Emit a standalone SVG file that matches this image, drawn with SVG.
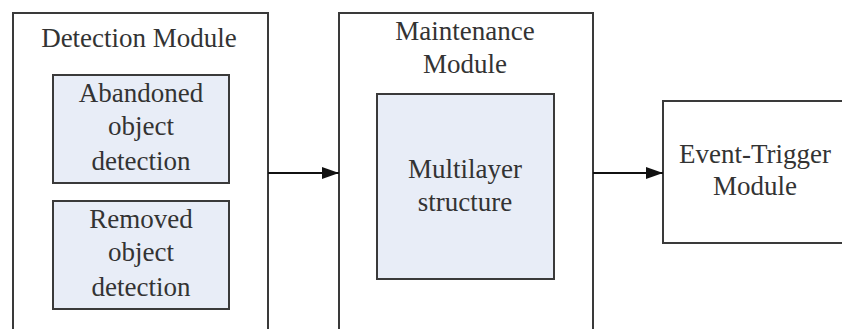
<svg xmlns="http://www.w3.org/2000/svg" width="842" height="329" viewBox="0 0 842 329">
  <defs>
    <marker id="arrow" viewBox="0 0 17 12" refX="17" refY="6" markerWidth="17" markerHeight="12" markerUnits="userSpaceOnUse" orient="auto">
      <path d="M0,0 L17,6 L0,12 Z" fill="#111"/>
    </marker>
  </defs>
  <style>
    .outer { fill: #ffffff; stroke: #3a3a3a; stroke-width: 2; }
    .inner { fill: #e8edf7; stroke: #3a3a3a; stroke-width: 2; }
    .label { font-family: "Liberation Serif", "Times New Roman", serif; font-size: 27px; fill: #333333; text-anchor: middle; }
    .link { stroke: #111; stroke-width: 2; fill: none; }
  </style>
  <rect width="842" height="329" fill="#ffffff"/>

  <!-- Detection module with its two sub-blocks -->
  <g id="detection-module">
    <rect class="outer" x="13" y="13" width="255" height="330"/>
    <text class="label" x="139" y="47">Detection Module</text>
  </g>
  <g id="abandoned-detection">
    <rect class="inner" x="53" y="75" width="176" height="108"/>
    <text class="label" x="141" y="102">Abandoned</text>
    <text class="label" x="141" y="135">object</text>
    <text class="label" x="141" y="170">detection</text>
  </g>
  <g id="removed-detection">
    <rect class="inner" x="53" y="201" width="176" height="108"/>
    <text class="label" x="141" y="228">Removed</text>
    <text class="label" x="141" y="261">object</text>
    <text class="label" x="141" y="296">detection</text>
  </g>

  <!-- Maintenance module -->
  <g id="maintenance-module">
    <rect class="outer" x="339" y="13" width="254" height="330"/>
    <text class="label" x="465" y="40">Maintenance</text>
    <text class="label" x="465" y="73">Module</text>
  </g>
  <g id="multilayer-structure">
    <rect class="inner" x="377" y="94" width="177" height="185"/>
    <text class="label" x="465" y="178">Multilayer</text>
    <text class="label" x="465" y="211">structure</text>
  </g>

  <!-- Event-trigger module -->
  <g id="event-trigger-module">
    <rect class="outer" x="663" y="101" width="200" height="142"/>
    <text class="label" x="755" y="163">Event-Trigger</text>
    <text class="label" x="755" y="195">Module</text>
  </g>

  <!-- Connectors -->
  <g id="connectors">
    <line class="link" x1="268" y1="173" x2="339" y2="173" marker-end="url(#arrow)"/>
    <line class="link" x1="593" y1="173" x2="663" y2="173" marker-end="url(#arrow)"/>
  </g>
</svg>
